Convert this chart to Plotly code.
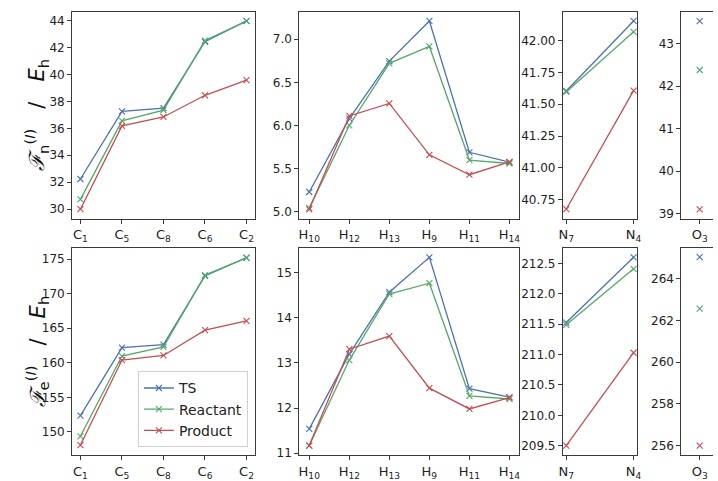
import plotly.graph_objects as go

# ---------------- data ----------------
series_names = ["TS", "Reactant", "Product"]
colors = ["#4c72b0", "#55a868", "#c44e52"]

cats_C = ["C<sub>1</sub>", "C<sub>5</sub>", "C<sub>8</sub>", "C<sub>6</sub>", "C<sub>2</sub>"]
cats_H = ["H<sub>10</sub>", "H<sub>12</sub>", "H<sub>13</sub>", "H<sub>9</sub>", "H<sub>11</sub>", "H<sub>14</sub>"]
cats_N = ["N<sub>7</sub>", "N<sub>4</sub>"]
cats_O = ["O<sub>3</sub>"]

# top row: F_n
n_C_TS = [32.24, 37.25, 37.50, 42.42, 43.97]
n_C_R = [30.73, 36.55, 37.35, 42.51, 43.95]
n_C_P = [30.00, 36.18, 36.84, 38.45, 39.57]

n_H_TS = [5.23, 6.08, 6.745, 7.21, 5.69, 5.575]
n_H_R = [5.046, 6.00, 6.72, 6.915, 5.60, 5.56]
n_H_P = [5.03, 6.11, 6.255, 5.66, 5.43, 5.578]

n_N_TS = [41.605, 42.155]
n_N_R = [41.597, 42.07]
n_N_P = [40.675, 41.607]

n_O_TS = [43.53]
n_O_R = [42.38]
n_O_P = [39.10]

# bottom row: F_e
e_C_TS = [152.37, 162.2, 162.63, 172.57, 175.24]
e_C_R = [149.37, 160.98, 162.3, 172.7, 175.2]
e_C_P = [148.1, 160.4, 161.07, 164.73, 166.06]

e_H_TS = [11.54, 13.19, 14.56, 15.33, 12.43, 12.24]
e_H_R = [11.17, 13.06, 14.52, 14.76, 12.27, 12.20]
e_H_P = [11.17, 13.30, 13.59, 12.44, 11.98, 12.23]

e_N_TS = [211.527, 212.60]
e_N_R = [211.49, 212.41]
e_N_P = [209.50, 211.03]

e_O_TS = [265.04]
e_O_R = [262.57]
e_O_P = [256.00]

# ---------------- layout helpers ----------------
W, H = 718, 481
def xd(a, b):
    return [a / W, min(b / W, 1.0)]
def yd(top, bot):
    return [1 - bot / H, 1 - top / H]

x_doms = [xd(69, 254), xd(299, 522), xd(566, 641), xd(686, 718)]
y_doms = [yd(12, 222), yd(252, 462)]
x_ranges = [[-0.2, 4.2], [-0.25, 5.25], [-0.05, 1.05], [-0.5, 0.365]]

y_ranges = [
    [[29.29, 44.64], [4.92, 7.316], [40.60, 42.227], [38.877, 43.75]],
    [[146.62, 176.57], [10.956, 15.53], [209.343, 212.748], [255.54, 265.46]],
]
y_dticks = [[2, 0.5, 0.25, 1], [5, 1, 0.5, 2]]
y_formats = [["d", ".1f", ".2f", "d"], ["d", "d", ".1f", "d"]]

cats = [cats_C, cats_H, cats_N, cats_O]
data = [
    [[n_C_TS, n_C_R, n_C_P], [n_H_TS, n_H_R, n_H_P], [n_N_TS, n_N_R, n_N_P], [n_O_TS, n_O_R, n_O_P]],
    [[e_C_TS, e_C_R, e_C_P], [e_H_TS, e_H_R, e_H_P], [e_N_TS, e_N_R, e_N_P], [e_O_TS, e_O_R, e_O_P]],
]

FONT = "DejaVu Sans"
AXCOL = "#3a3a3a"

fig = go.Figure()
layout = dict(
    width=W, height=H,
    margin=dict(l=0, r=0, t=0, b=0),
    paper_bgcolor="white", plot_bgcolor="white",
    font=dict(family=FONT, size=12, color="black"),
    showlegend=True,
    legend=dict(
        x=247 / W, y=1 - 454 / H, xanchor="right", yanchor="bottom",
        bgcolor="white", bordercolor="#d0d0d0", borderwidth=1,
        font=dict(family=FONT, size=14, color="#222"),
        tracegroupgap=0, itemwidth=30,
    ),
)

idx = 0
for r in range(2):
    for c in range(4):
        idx += 1
        xa = "x" if idx == 1 else f"x{idx}"
        ya = "y" if idx == 1 else f"y{idx}"
        for s in range(3):
            fig.add_trace(go.Scatter(
                x=cats[c], y=data[r][c][s], xaxis=xa, yaxis=ya,
                mode="lines+markers",
                name=series_names[s],
                legendgroup=series_names[s],
                showlegend=(r == 1 and c == 0),
                line=dict(color=colors[s], width=1.3),
                marker=dict(symbol="x-thin", size=6, color=colors[s],
                            line=dict(width=1.1, color=colors[s])),
                cliponaxis=False,
            ))
        xkey = "xaxis" if idx == 1 else f"xaxis{idx}"
        ykey = "yaxis" if idx == 1 else f"yaxis{idx}"
        layout[xkey] = dict(
            domain=x_doms[c], anchor=ya, type="category",
            categoryorder="array", categoryarray=cats[c],
            range=x_ranges[c], showgrid=False, zeroline=False,
            showline=True, linecolor=AXCOL, linewidth=1, mirror=True,
            ticks="outside", ticklen=4, tickwidth=1, tickcolor=AXCOL,
            tickfont=dict(family=FONT, size=13, color="#222"),
        )
        layout[ykey] = dict(
            domain=y_doms[r], anchor=xa, range=y_ranges[r][c],
            dtick=y_dticks[r][c], tickformat=y_formats[r][c],
            showgrid=False, zeroline=False,
            showline=True, linecolor=AXCOL, linewidth=1,
            mirror=(c != 3),
            ticks="outside", ticklen=4, tickwidth=1, tickcolor=AXCOL,
            tickfont=dict(family=FONT, size=12, color="#222"),
        )

fig.update_layout(**layout)

F = '<span style="font-family:DejaVu Serif"><i>ℱ</i></span>'
ylabels = [
    F + "<sub>n</sub><sup>(<i>I</i>)</sup>   /   <i>E</i><sub>h</sub>",
    F + "<sub>e</sub><sup>(<i>I</i>)</sup>   /   <i>E</i><sub>h</sub>",
]
for r in range(2):
    yc = (y_doms[r][0] + y_doms[r][1]) / 2
    fig.add_annotation(
        text=ylabels[r], xref="paper", yref="paper", x=33 / W, y=yc,
        xanchor="center", yanchor="middle", textangle=-90, showarrow=False,
        font=dict(family=FONT, size=21, color="#111"),
    )

fig.write_html("out.html")
